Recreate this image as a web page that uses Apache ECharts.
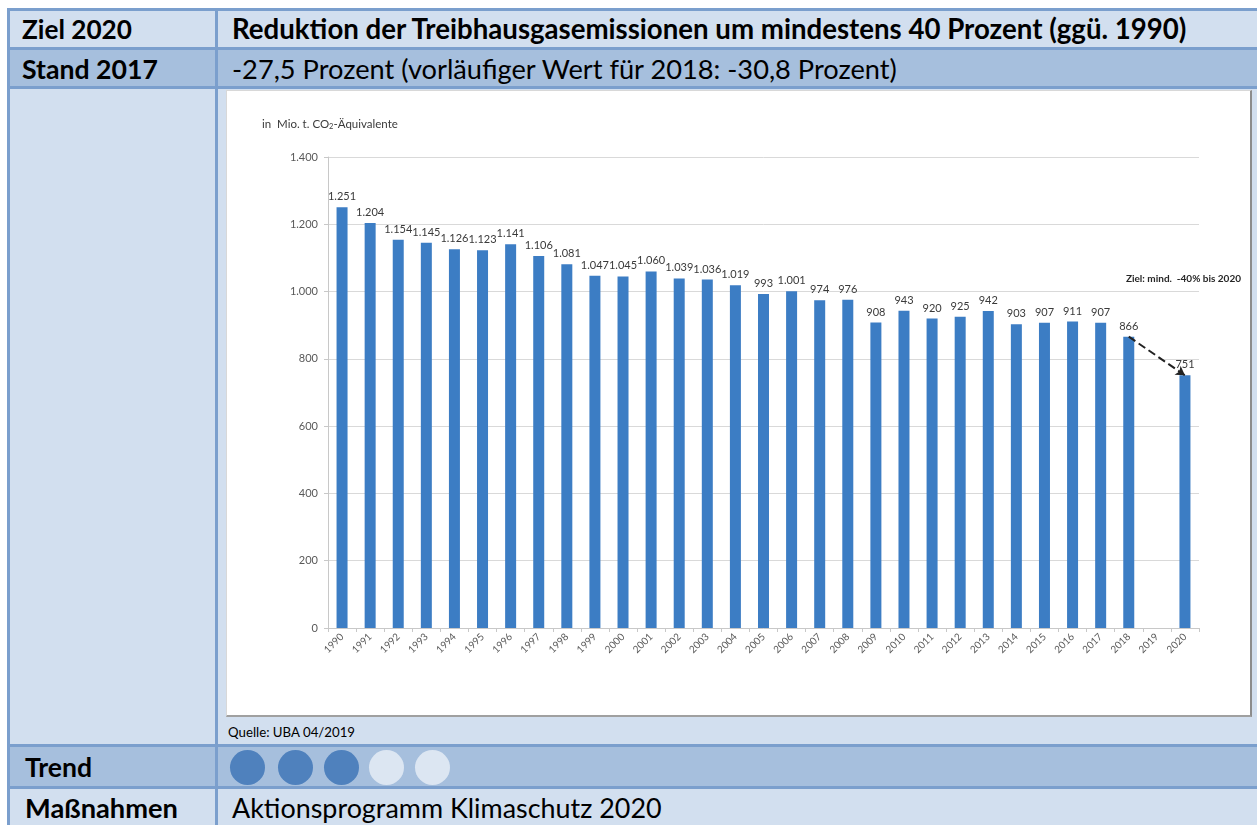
<!DOCTYPE html>
<html>
<head>
<meta charset="utf-8">
<script src="https://cdn.jsdelivr.net/npm/echarts@6/dist/echarts.min.js"></script>
<style>
  html, body { margin: 0; padding: 0; background: #ffffff; width: 1257px; height: 825px; overflow: hidden; }
  body { position: relative; font-family: Lato, "Open Sans", sans-serif; }
  .row { position: absolute; left: 7px; width: 1260px; box-sizing: border-box; }
  .light { background: #D2DFEF; }
  .dark { background: #A6BFDD; }
  .hline { position: absolute; left: 7px; width: 1260px; height: 3px; background: #7B9FCD; }
  .vline { position: absolute; width: 3px; background: #7B9FCD; }
  .txt { position: absolute; white-space: nowrap; color: #000; line-height: 1; }
  .b { font-weight: bold; }
  .dot { position: absolute; width: 35px; height: 35px; border-radius: 50%; }
  #chart { position: absolute; left: 226px; top: 90px; width: 1026px; height: 627px; background: #fff;
           box-sizing: border-box; border: 1px solid #d8d8d8; border-right: 2px solid #8c8c8c; border-bottom: 2px solid #a0a0a0; }
</style>
</head>
<body>
<div class="row light" style="top:9px;height:40px;"></div>
<div class="row dark" style="top:49px;height:39px;"></div>
<div class="row light" style="top:88px;height:658px;"></div>
<div class="row dark" style="top:746px;height:41px;"></div>
<div class="row light" style="top:787px;height:40px;"></div>

<div class="hline" style="top:8px;"></div>
<div class="hline" style="top:47px;"></div>
<div class="hline" style="top:86px;"></div>
<div class="hline" style="top:744px;"></div>
<div class="hline" style="top:786px;"></div>
<div class="vline" style="left:7px;top:8px;height:817px;"></div>
<div class="vline" style="left:215px;top:8px;height:817px;"></div>

<span class="txt b fit" data-w="110" data-x="22" data-y="29">Ziel 2020</span>
<span class="txt b fit" data-w="955" data-x="232" data-y="29">Reduktion der Treibhausgasemissionen um mindestens 40 Prozent (ggü. 1990)</span>
<span class="txt b fit" data-w="136" data-x="22" data-y="69">Stand 2017</span>
<span class="txt fit" data-w="665" data-x="232" data-y="69">-27,5 Prozent (vorläufiger Wert für 2018: -30,8 Prozent)</span>
<span class="txt fit" data-w="127" data-x="228" data-y="733">Quelle: UBA 04/2019</span>
<span class="txt b fit" data-w="67" data-x="25" data-y="767">Trend</span>
<span class="txt b fit" data-w="153" data-x="25" data-y="808">Maßnahmen</span>
<span class="txt fit" data-w="430" data-x="232" data-y="808">Aktionsprogramm Klimaschutz 2020</span>

<div class="dot" style="left:230px;top:750px;background:#4F81BD;"></div>
<div class="dot" style="left:278px;top:750px;background:#4F81BD;"></div>
<div class="dot" style="left:324px;top:750px;background:#4F81BD;"></div>
<div class="dot" style="left:369px;top:750px;background:#DCE6F2;"></div>
<div class="dot" style="left:415px;top:750px;background:#DCE6F2;"></div>

<div id="chart"></div>

<script>
// ---- data ----
const years = ['1990','1991','1992','1993','1994','1995','1996','1997','1998','1999',
               '2000','2001','2002','2003','2004','2005','2006','2007','2008','2009',
               '2010','2011','2012','2013','2014','2015','2016','2017','2018','2019','2020'];
const emissions = [1251,1204,1154,1145,1126,1123,1141,1106,1081,1047,
                   1045,1060,1039,1036,1019,993,1001,974,976,908,
                   943,920,925,942,903,907,911,907,866,null,751];
const yTicks = [0,200,400,600,800,1000,1200,1400];
const arrowFrom = ['2018', 866];
const arrowTo = ['2020', 751];
const chartTitle = 'in  Mio. t. CO{sub|2}-Äquivalente';
const goalText = 'Ziel: mind.  -40% bis 2020';

function de(v) {
  const s = String(Math.round(v));
  return s.replace(/\B(?=(\d{3})+(?!\d))/g, '.');
}

// ---- fit table texts ----
function fitTexts() {
  document.querySelectorAll('.fit').forEach(el => {
    el.style.fontSize = '20px';
    const w = el.getBoundingClientRect().width;
    const target = parseFloat(el.dataset.w);
    let fs = 20 * target / w;
    el.style.fontSize = fs.toFixed(2) + 'px';
    const r = el.getBoundingClientRect();
    el.style.left = el.dataset.x + 'px';
    el.style.top = (parseFloat(el.dataset.y) - r.height / 2) + 'px';
  });
}
fitTexts();
if (document.fonts && document.fonts.ready) document.fonts.ready.then(fitTexts);

// ---- chart ----
const chart = echarts.init(document.getElementById('chart'), null, { renderer: 'canvas' });
const font = 'Lato, "Open Sans", sans-serif';
chart.setOption({
  animation: false,
  backgroundColor: '#ffffff',
  textStyle: { fontFamily: font },
  title: {
    text: chartTitle,
    left: 30, top: 21,
    textStyle: {
      fontSize: 11.5, fontWeight: 'normal', color: '#3a3a3a', fontFamily: font,
      rich: { sub: { fontSize: 7.5, verticalAlign: 'bottom', padding: [6, 0, 0, 0], color: '#3a3a3a', fontFamily: font } }
    }
  },
  grid: { left: 101, right: 51, top: 66, bottom: 87, containLabel: false },
  xAxis: {
    type: 'category',
    data: years,
    axisLine: { lineStyle: { color: '#C8C8C8', width: 1 } },
    axisTick: { show: true, length: 4, lineStyle: { color: '#C8C8C8' } },
    axisLabel: { rotate: 45, fontSize: 10, color: '#595959', margin: 7, fontFamily: font }
  },
  yAxis: {
    type: 'value',
    min: yTicks[0], max: yTicks[yTicks.length - 1], interval: yTicks[1] - yTicks[0],
    axisLine: { show: true, lineStyle: { color: '#C8C8C8' } },
    axisTick: { show: true, length: 4, lineStyle: { color: '#C8C8C8' } },
    splitLine: { lineStyle: { color: '#D9D9D9', width: 1 } },
    axisLabel: { fontSize: 11, color: '#595959', margin: 10, formatter: v => de(v), fontFamily: font }
  },
  graphic: [{
    type: 'text', right: 9, top: 183,
    style: { text: goalText, font: 'bold 10px ' + font, fill: '#262626' }
  }],
  series: [{
    type: 'bar',
    data: emissions,
    barWidth: 11,
    itemStyle: { color: '#3C7DC4' },
    label: {
      show: true, position: 'top', distance: 5, fontSize: 11, color: '#3a3a3a', fontFamily: font,
      formatter: p => (p.value == null ? '' : de(p.value))
    },
    markLine: {
      silent: true,
      symbol: ['none', 'arrow'],
      symbolSize: [8, 9],
      label: { show: false },
      lineStyle: { type: 'dashed', color: '#222', width: 2 },
      data: [[{ coord: arrowFrom }, { coord: arrowTo }]]
    }
  }]
});
</script>
</body>
</html>
